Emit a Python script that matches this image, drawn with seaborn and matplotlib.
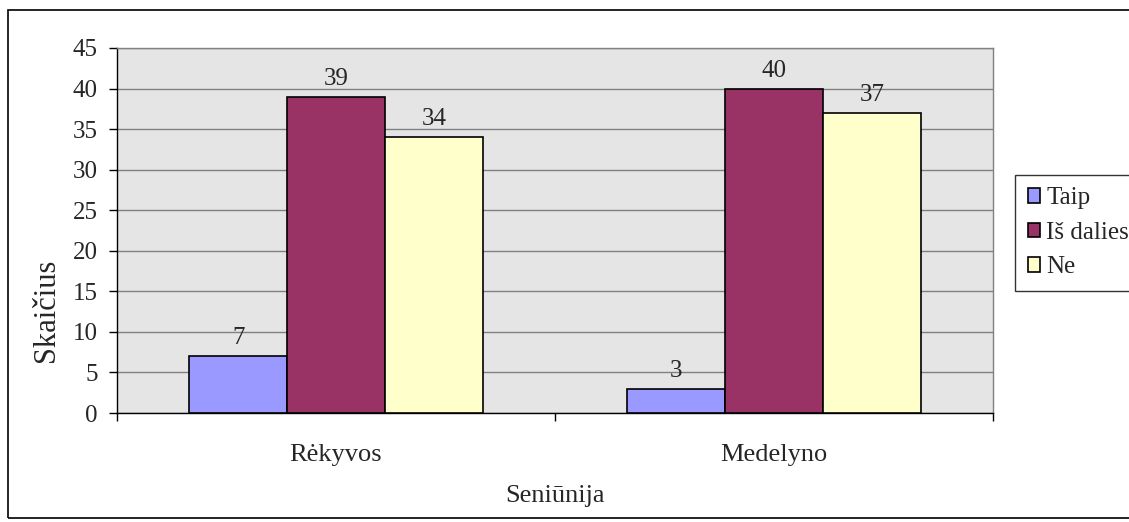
import matplotlib
matplotlib.use("Agg")
import matplotlib.pyplot as plt
import seaborn as sns
import pandas as pd
from matplotlib.patches import Rectangle

categories = ["Rėkyvos", "Medelyno"]
series_names = ["Taip", "Iš dalies", "Ne"]
taip = [7, 3]
is_dalies = [39, 40]
ne = [34, 37]
colors = ["#9999ff", "#993366", "#ffffcc"]

rows = []
for i, c in enumerate(categories):
    for name, vals in zip(series_names, [taip, is_dalies, ne]):
        rows.append({"Seniūnija": c, "Atsakymas": name, "Skaičius": vals[i]})
df = pd.DataFrame(rows)

sns.set_theme(style="white")
plt.rcParams['font.family'] = ['Liberation Serif', 'DejaVu Serif']

fig = plt.figure(figsize=(11.29, 5.22), dpi=100)
ax = fig.add_axes([117/1129, 1 - 413/522, (993-117)/1129, (413-48)/522])

sns.barplot(data=df, x="Seniūnija", y="Skaičius", hue="Atsakymas",
            hue_order=series_names, palette=colors, width=0.67, saturation=1,
            edgecolor="black", linewidth=1.2, ax=ax, legend=True, zorder=3)

ax.set_facecolor("#e5e5e5")
ax.set_ylim(0, 45)
ax.set_xlim(-0.5, 1.5)
ax.set_yticks(range(0, 46, 5))
ax.yaxis.grid(True, color="#808080", linewidth=1.0, zorder=0)
ax.set_axisbelow(True)
ax.tick_params(axis="y", labelsize=18, length=6, direction="out", left=True, color="black", width=1, pad=8)
ax.tick_params(axis="x", labelsize=19, length=0, pad=22)
ax.set_xticks([-0.5, 0.5, 1.5], minor=True)
ax.tick_params(axis="x", which="minor", length=6, direction="out", bottom=True, color="black", width=1)

for side in ["left", "bottom"]:
    ax.spines[side].set_color("black")
    ax.spines[side].set_linewidth(1.0)
for side in ["top", "right"]:
    ax.spines[side].set_color("#808080")
    ax.spines[side].set_linewidth(1.0)

ax.set_ylabel("Skaičius", fontsize=22)
ax.yaxis.set_label_coords(-0.064, 0.28)
ax.set_xlabel("Seniūnija", fontsize=19, labelpad=14)

for cont in ax.containers:
    ax.bar_label(cont, fontsize=18, padding=5)

handles, labels = ax.get_legend_handles_labels()
ax.legend_.remove()
leg = fig.legend(handles, labels, loc="upper left", bbox_to_anchor=(1015/1129, 1 - 175/522),
                 frameon=True, fontsize=18, handlelength=0.5, handleheight=0.5,
                 handletextpad=0.25, borderpad=0.5, labelspacing=0.5, fancybox=False,
                 borderaxespad=0)
leg.get_frame().set_edgecolor("black")
leg.get_frame().set_linewidth(1.0)

fig.patches.append(Rectangle((8/1129, 4/522), 1.2, 1 - 14/522, transform=fig.transFigure,
                             fill=False, edgecolor="black", linewidth=1.2))

fig.savefig("out.png", dpi=100)
